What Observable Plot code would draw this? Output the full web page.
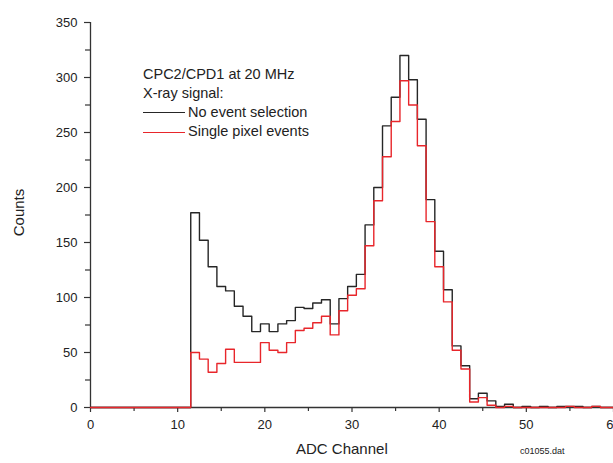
<!DOCTYPE html>
<html><head><meta charset="utf-8">
<script src="https://cdn.jsdelivr.net/npm/d3@7"></script>
<script src="https://cdn.jsdelivr.net/npm/@observablehq/plot@0.6"></script>
<style>
body{margin:0;background:#fff;font-family:"Liberation Sans",Arial,sans-serif;}
#wrap{position:relative;width:613px;height:463px;overflow:hidden;background:#fff;}
#wrap svg{position:absolute;left:0;top:0;}
.t{position:absolute;color:#222;white-space:nowrap;line-height:1;}
.lg{position:absolute;height:0;border-top:1.4px solid;}
</style></head><body><div id="wrap"></div>
<script>
// ADC channel bins (centres), 0..60
const channels = d3.range(0, 61);
// Counts, no event selection (black)
const noSelection = [0,0,0,0,0,0,0,0,0,0,0,0,
  177,152,128,110,106,92,83,69,76,69,76,79,91,90,95,98,76,99,110,121,
  166,200,256,282,320,298,262,189,142,107,56,38,8,13,6,1,3,0,1,0,1,0,1,1,1,0,1,0,0];
// Counts, single pixel events (red)
const singlePixel = [0,0,0,0,0,0,0,0,0,0,0,0,
  50,44,32,40,53,41,41,41,59,52,50,59,70,72,77,83,66,88,102,108,
  147,188,228,260,297,275,238,169,128,96,52,35,5,9,2,0,1,0,0,0,0,0,0,1,0,0,1,0,0];
const xTicks = [0,10,20,30,40,50,60];
const xMinor = [5,15,25,35,45,55];
const yTicks = [0,50,100,150,200,250,300,350];
const yMinor = [25,75,125,175,225,275,325];
const legendTitle = ["CPC2/CPD1 at 20 MHz", "X-ray signal:"];
const seriesNames = ["No event selection", "Single pixel events"];
const seriesColors = ["#262626", "#e8262b"];
const xLabel = "ADC Channel";
const yLabel = "Counts";
const caption = "c01055.dat";

const blackData = channels.map((c, i) => ({channel: c, counts: noSelection[i]}));
const redData = channels.map((c, i) => ({channel: c, counts: singlePixel[i]}));
const axisColor = "#333";

const chart = Plot.plot({
  width: 613, height: 463,
  marginLeft: 90, marginRight: 0, marginTop: 22, marginBottom: 56,
  style: {fontFamily: "Liberation Sans, Arial, sans-serif", fontSize: "13px", color: "#222", background: "transparent"},
  x: {domain: [0, 60]},
  y: {domain: [0, 350]},
  marks: [
    Plot.axisY(yTicks, {tickSize: 6, tickPadding: 7, label: null, stroke: axisColor, strokeWidth: 1.2}),
    Plot.axisY(yMinor, {tickSize: 5, tickFormat: () => "", label: null, stroke: axisColor, strokeWidth: 1.2}),
    Plot.axisX(xTicks, {tickSize: 5, tickPadding: 7, label: null, stroke: axisColor, strokeWidth: 1.2}),
    Plot.axisX(xMinor, {tickSize: 4, tickFormat: () => "", label: null, stroke: axisColor, strokeWidth: 1.2}),
    Plot.ruleX([0], {stroke: axisColor, strokeWidth: 1.3}),
    Plot.ruleY([0], {stroke: axisColor, strokeWidth: 1.3}),
    Plot.line(blackData, {x: "channel", y: "counts", curve: "step", stroke: seriesColors[0], strokeWidth: 1.4}),
    Plot.line(redData, {x: "channel", y: "counts", curve: "step", stroke: seriesColors[1], strokeWidth: 1.4})
  ]
});
const wrap = document.getElementById("wrap");
wrap.appendChild(chart);

function addText(txt, left, top, size, extra) {
  const d = document.createElement("div");
  d.className = "t";
  d.textContent = txt;
  d.style.left = left + "px";
  d.style.top = top + "px";
  d.style.fontSize = size + "px";
  if (extra) Object.assign(d.style, extra);
  wrap.appendChild(d);
  return d;
}
function addLine(left, top, w, color) {
  const d = document.createElement("div");
  d.className = "lg";
  d.style.left = left + "px";
  d.style.top = top + "px";
  d.style.width = w + "px";
  d.style.borderTopColor = color;
  wrap.appendChild(d);
}
// legend
addText(legendTitle[0], 143, 67, 14.5);
addText(legendTitle[1], 143, 86, 14.5);
addLine(143, 112, 42, seriesColors[0]);
addText(seriesNames[0], 188, 105, 14.5);
addLine(143, 132, 42, seriesColors[1]);
addText(seriesNames[1], 188, 124, 14.5);
// axis labels
addText(xLabel, 296, 441, 15);
const yl = addText(yLabel, 0, 0, 15, {transformOrigin: "center center"});
const w = yl.offsetWidth, h = yl.offsetHeight;
yl.style.left = (19 - w / 2) + "px";
yl.style.top = (212 - h / 2) + "px";
yl.style.transform = "rotate(-90deg)";
addText(caption, 520, 447, 9);
</script></body></html>
